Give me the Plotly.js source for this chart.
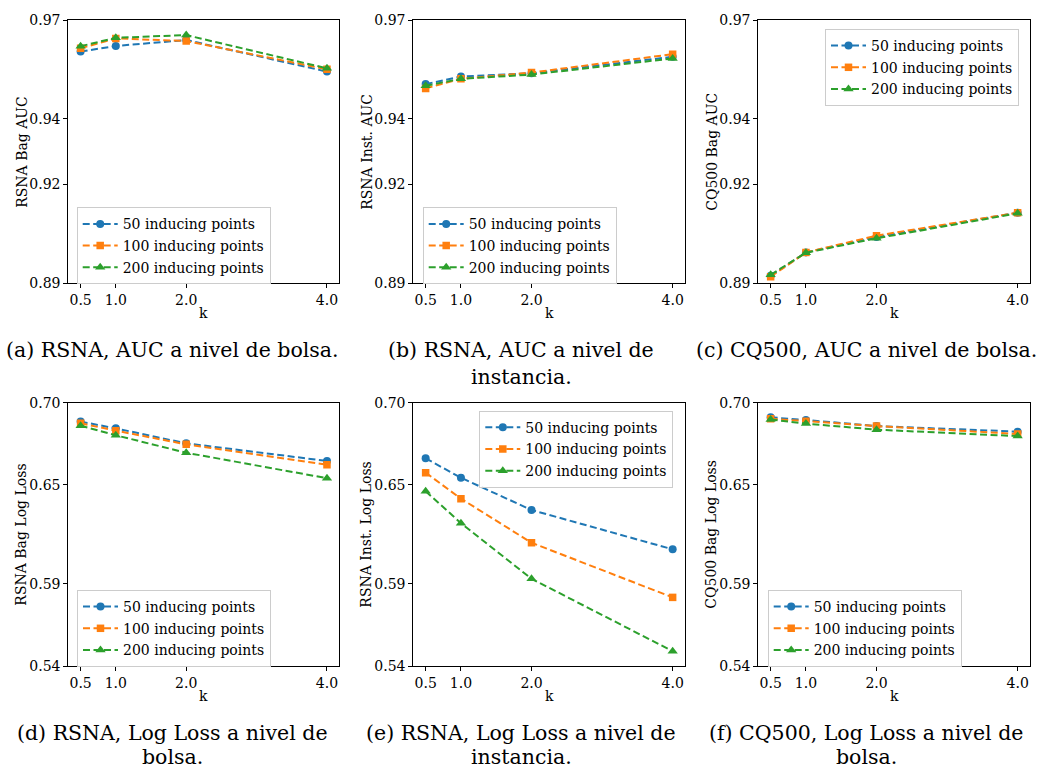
<!DOCTYPE html>
<html>
<head>
<meta charset="utf-8">
<script src="https://cdn.plot.ly/plotly-3.0.1.min.js"></script>
<style>
  html, body { margin: 0; padding: 0; background: #ffffff; }
  #chart { width: 1040px; height: 769px; }
</style>
</head>
<body>
<div id="chart"></div>
<script>
// Number of inducing points per series and the k values on the x axis
const kValues = [0.5, 1.0, 2.0, 4.0];
const seriesNames = ['50 inducing points', '100 inducing points', '200 inducing points'];

// (a) RSNA bag-level AUC
const rsnaBagAuc50  = [0.9604, 0.9621, 0.9639, 0.9543];
const rsnaBagAuc100 = [0.9614, 0.9644, 0.9636, 0.9550];
const rsnaBagAuc200 = [0.9620, 0.9646, 0.9654, 0.9553];

// (b) RSNA instance-level AUC
const rsnaInstAuc50  = [0.9505, 0.9528, 0.9538, 0.9588];
const rsnaInstAuc100 = [0.9492, 0.9521, 0.9540, 0.9596];
const rsnaInstAuc200 = [0.9500, 0.9521, 0.9534, 0.9583];

// (c) CQ500 bag-level AUC
const cq500BagAuc50  = [0.8922, 0.8993, 0.9040, 0.9114];
const cq500BagAuc100 = [0.8919, 0.8993, 0.9044, 0.9114];
const cq500BagAuc200 = [0.8925, 0.8992, 0.9036, 0.9112];

// (d) RSNA bag-level log loss
const rsnaBagLoss50  = [0.6885, 0.6844, 0.6753, 0.6646];
const rsnaBagLoss100 = [0.6875, 0.6830, 0.6747, 0.6623];
const rsnaBagLoss200 = [0.6860, 0.6802, 0.6696, 0.6541];

// (e) RSNA instance-level log loss
const rsnaInstLoss50  = [0.6662, 0.6544, 0.6348, 0.6109];
const rsnaInstLoss100 = [0.6575, 0.6417, 0.6149, 0.5817];
const rsnaInstLoss200 = [0.6462, 0.6268, 0.5930, 0.5490];

// (f) CQ500 bag-level log loss
const cq500BagLoss50  = [0.6911, 0.6895, 0.6858, 0.6824];
const cq500BagLoss100 = [0.6903, 0.6887, 0.6858, 0.6810];
const cq500BagLoss200 = [0.6898, 0.6873, 0.6836, 0.6797];

// Axis tick values
const aucTicks  = [0.89, 0.92, 0.94, 0.97];
const lossTicks = [0.54, 0.59, 0.65, 0.70];

// Axis titles and captions
const yTitles = ['RSNA Bag AUC', 'RSNA Inst. AUC', 'CQ500 Bag AUC',
                 'RSNA Bag Log Loss', 'RSNA Inst. Log Loss', 'CQ500 Bag Log Loss'];
const captions = [
  ['(a) RSNA, AUC a nivel de bolsa.'],
  ['(b) RSNA, AUC a nivel de', 'instancia.'],
  ['(c) CQ500, AUC a nivel de bolsa.'],
  ['(d) RSNA, Log Loss a nivel de', 'bolsa.'],
  ['(e) RSNA, Log Loss a nivel de', 'instancia.'],
  ['(f) CQ500, Log Loss a nivel de', 'bolsa.']
];

const panelSeries = [
  [rsnaBagAuc50, rsnaBagAuc100, rsnaBagAuc200],
  [rsnaInstAuc50, rsnaInstAuc100, rsnaInstAuc200],
  [cq500BagAuc50, cq500BagAuc100, cq500BagAuc200],
  [rsnaBagLoss50, rsnaBagLoss100, rsnaBagLoss200],
  [rsnaInstLoss50, rsnaInstLoss100, rsnaInstLoss200],
  [cq500BagLoss50, cq500BagLoss100, cq500BagLoss200]
];

// ---- Styling and geometry ----
const W = 1040, H = 769;
const colors = ['#1f77b4', '#ff7f0e', '#2ca02c'];
const symbols = ['circle', 'square', 'triangle-up'];
const markerSizes = [8, 7.5, 9];
const serif = 'DejaVu Serif, serif';

// plot boxes in pixels: [left, right] and [top, bottom]
const colsPx = [[68.3, 339.3], [413.3, 685], [758.3, 1030]];
const rowsPx = [[20, 283], [402.7, 666]];
// legend top-left corners in pixels
const legendPos = [[76.7, 207.3], [422.7, 207.3], [825, 29], [77, 590], [479.3, 410.7], [767.7, 590]];
const captionCenters = [172, 521, 866];
// vertical centers of the caption lines for each row
const captionRowsY = [[350, 377], [733, 757]];

const px2x = p => p / W;
const px2y = p => 1 - p / H;

const data = [];
const layout = {
  width: W, height: H,
  margin: {l: 0, r: 0, t: 0, b: 0},
  paper_bgcolor: '#ffffff',
  plot_bgcolor: '#ffffff',
  showlegend: true,
  font: {family: serif, size: 14, color: '#000000'},
  annotations: []
};

for (let p = 0; p < 6; p++) {
  const row = Math.floor(p / 3), col = p % 3;
  const suffix = p === 0 ? '' : String(p + 1);
  const xName = 'x' + suffix, yName = 'y' + suffix;
  const legendName = 'legend' + suffix;
  const isAuc = row === 0;

  panelSeries[p].forEach((vals, s) => {
    data.push({
      type: 'scatter', mode: 'lines+markers',
      x: kValues, y: vals,
      xaxis: xName, yaxis: yName,
      name: seriesNames[s],
      legend: legendName,
      legendgroup: 'g' + p + '_' + s,
      line: {color: colors[s], width: 2, dash: '7px,3.5px'},
      marker: {color: colors[s], symbol: symbols[s], size: markerSizes[s]},
      hoverinfo: 'skip'
    });
  });

  const axisCommon = {
    showgrid: false, zeroline: false,
    showline: true, linecolor: '#000000', linewidth: 1, mirror: true,
    ticks: 'outside', ticklen: 4, tickwidth: 1, tickcolor: '#000000',
    tickfont: {family: serif, size: 14, color: '#000000'},
    fixedrange: true
  };

  layout['xaxis' + suffix] = Object.assign({}, axisCommon, {
    domain: [px2x(colsPx[col][0]), px2x(colsPx[col][1])],
    anchor: yName,
    range: [0.325, 4.175],
    tickmode: 'array', tickvals: kValues,
    tickformat: '.1f'
  });
  layout['yaxis' + suffix] = Object.assign({}, axisCommon, {
    domain: [px2y(rowsPx[row][1]), px2y(rowsPx[row][0])],
    anchor: xName,
    range: isAuc ? [0.89, 0.97] : [0.54, 0.70],
    tickmode: 'array', tickvals: isAuc ? aucTicks : lossTicks,
    tickformat: '.2f'
  });

  layout[legendName] = {
    x: px2x(legendPos[p][0]), y: px2y(legendPos[p][1]),
    xanchor: 'left', yanchor: 'top',
    bgcolor: 'rgba(255,255,255,0.8)',
    bordercolor: '#cccccc', borderwidth: 1,
    font: {family: serif, size: 14, color: '#000000'},
    traceorder: 'grouped', tracegroupgap: 0.5,
    itemwidth: 35,
    itemclick: false, itemdoubleclick: false
  };

  // y axis title
  layout.annotations.push({
    xref: 'paper', yref: 'paper',
    x: px2x(colsPx[col][0] - 47), y: px2y((rowsPx[row][0] + rowsPx[row][1]) / 2),
    xanchor: 'center', yanchor: 'middle',
    text: yTitles[p], textangle: -90, showarrow: false,
    font: {family: serif, size: 14, color: '#000000'}
  });
  // x axis title
  layout.annotations.push({
    xref: 'paper', yref: 'paper',
    x: px2x((colsPx[col][0] + colsPx[col][1]) / 2), y: px2y(rowsPx[row][1] + 30),
    xanchor: 'center', yanchor: 'middle',
    text: 'k', showarrow: false,
    font: {family: serif, size: 14, color: '#000000'}
  });
  // caption lines
  captions[p].forEach((line, li) => {
    layout.annotations.push({
      xref: 'paper', yref: 'paper',
      x: px2x(captionCenters[col]), y: px2y(captionRowsY[row][li]),
      xanchor: 'center', yanchor: 'middle',
      borderpad: 0, borderwidth: 0,
      text: line, showarrow: false,
      font: {family: serif, size: 20.5, color: '#000000'}
    });
  });
}

Plotly.newPlot('chart', data, layout, {displayModeBar: false, staticPlot: true});
</script>
</body>
</html>
